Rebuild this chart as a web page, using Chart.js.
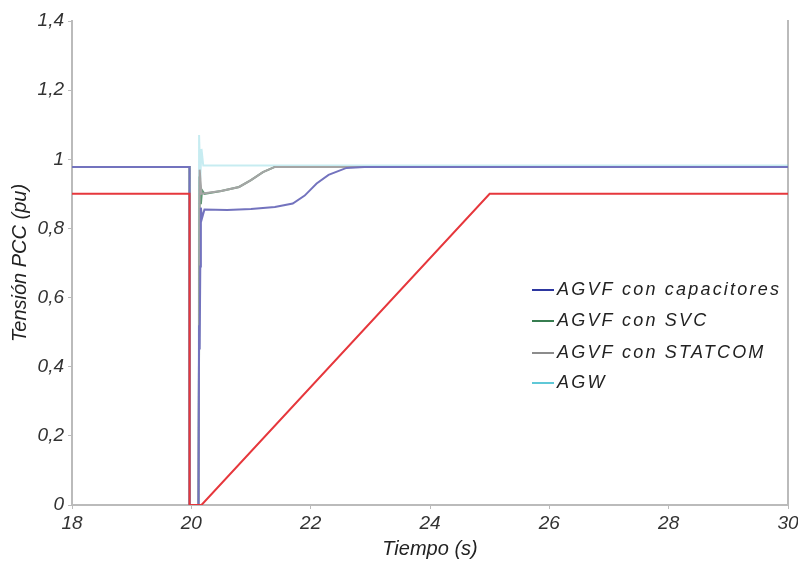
<!DOCTYPE html>
<html>
<head>
<meta charset="utf-8">
<script src="https://cdn.jsdelivr.net/npm/chart.js@4.4.0/dist/chart.umd.min.js"></script>
<style>
  html, body { margin: 0; padding: 0; background: #fff; }
  #wrap { width: 798px; height: 565px; }
</style>
</head>
<body>
<div id="wrap"><canvas id="mycanvas" width="798" height="565"></canvas></div>
<script>
// tiempo (s) / tension (pu)
var redT = [18, 19.97, 19.97, 20.17, 25, 30];
var redV = [0.9, 0.9, 0, 0, 0.9, 0.9];

var capT = [18, 19.97, 19.97, 20.12, 20.13, 20.14, 20.15, 20.16, 20.18, 20.22, 20.6, 21.0, 21.4, 21.7, 21.9, 22.1, 22.3, 22.6, 22.9, 30];
var capV = [0.978, 0.978, 0, 0, 0.52, 0.45, 0.69, 0.86, 0.83, 0.855, 0.853, 0.856, 0.862, 0.872, 0.895, 0.93, 0.955, 0.975, 0.978, 0.978];

var svcT = [18, 19.97, 19.97, 20.12, 20.14, 20.16, 20.18, 20.22, 20.5, 20.8, 21.0, 21.2, 21.4, 21.6, 30];
var svcV = [0.978, 0.978, 0, 0, 0.95, 0.87, 0.91, 0.9, 0.908, 0.92, 0.94, 0.963, 0.978, 0.978, 0.978];

var staT = [18, 19.97, 19.97, 20.12, 20.14, 20.17, 20.22, 20.5, 20.8, 21.0, 21.2, 21.4, 21.6, 30];
var staV = [0.978, 0.978, 0, 0, 0.97, 0.9, 0.902, 0.908, 0.92, 0.94, 0.963, 0.978, 0.978, 0.978];

var agwT = [18, 19.97, 19.97, 20.12, 20.13, 20.15, 20.17, 20.2, 30];
var agwV = [0.978, 0.978, 0, 0, 1.07, 0.94, 1.03, 0.982, 0.982];

var xTicks = [18, 20, 22, 24, 26, 28, 30];
var yTicks = [0, 0.2, 0.4, 0.6, 0.8, 1, 1.2, 1.4];

var legendNames = ["AGVF con capacitores", "AGVF con SVC", "AGVF con STATCOM", "AGW"];
var legendColors = ["rgb(45,55,160)", "rgb(55,125,80)", "rgb(140,140,140)", "rgb(95,200,215)"];

function pts(t, v) {
	var out = [];
	for (var i in t) {
		out.push({x: t[i], y: v[i]});
	}
	return out;
}

function fmt(v) {
	var r = Math.round(v * 10) / 10;
	return r.toString().replace('.', ',');
}

var tickFont = {family: "'Liberation Sans', Arial, sans-serif", size: 19, style: 'italic'};
var titleFont = {family: "'Liberation Sans', Arial, sans-serif", size: 20, style: 'italic'};

// legend drawn inside the plot, like the original
var innerLegend = {
	id: 'innerLegend',
	afterDatasetsDraw: function(chart) {
		var ctx = chart.ctx;
		var a = chart.chartArea;
		var x0 = a.left + 460;
		var rows = [290, 321, 353, 383];
		ctx.save();
		ctx.font = "italic 18px 'Liberation Sans', Arial, sans-serif";
		ctx.letterSpacing = '2.2px';
		ctx.textBaseline = 'middle';
		for (var i = 0; i < legendNames.length; i++) {
			ctx.strokeStyle = legendColors[i];
			ctx.lineWidth = 2;
			ctx.beginPath();
			ctx.moveTo(x0, rows[i]);
			ctx.lineTo(x0 + 22, rows[i]);
			ctx.stroke();
			ctx.fillStyle = '#222';
			ctx.fillText(legendNames[i], x0 + 25, rows[i]);
		}
		ctx.restore();
	}
};

var chartdata = {
	datasets: [
		{
			label: "Tension AGW",
			data: pts(redT, redV),
			borderColor: "rgb(230,55,60)",
			borderWidth: 2,
			order: 0
		},
		{
			label: legendNames[0],
			data: pts(capT, capV),
			borderColor: "rgb(115,115,190)",
			borderWidth: 2,
			order: 1
		},
		{
			label: legendNames[1],
			data: pts(svcT, svcV),
			borderColor: "rgba(55,125,80,0.8)",
			borderWidth: 2,
			order: 3
		},
		{
			label: legendNames[2],
			data: pts(staT, staV),
			borderColor: "rgb(165,165,165)",
			borderWidth: 2,
			order: 2
		},
		{
			label: legendNames[3],
			data: pts(agwT, agwV),
			borderColor: "rgba(95,200,215,0.35)",
			borderWidth: 2,
			order: 4
		}
	]
};

var ctx = document.getElementById('mycanvas');

var LineGraph = new Chart(ctx, {
	type: 'line',
	data: chartdata,
	plugins: [innerLegend],
	options: {
		responsive: false,
		animation: false,
		elements: {point: {radius: 0}, line: {tension: 0}},
		layout: {padding: {top: 21, right: 8, left: 0, bottom: 0}},
		plugins: {legend: {display: false}, tooltip: {enabled: false}},
		scales: {
			x: {
				type: 'linear',
				min: 18,
				max: 30,
				afterBuildTicks: function(scale) {
					scale.ticks = xTicks.map(function(v) { return {value: v}; });
				},
				afterFit: function(scale) {
					scale.height = 60;
					scale.paddingRight = 0;
					scale.paddingLeft = 0;
				},
				ticks: {color: '#333', font: tickFont, padding: 3, callback: function(v) { return fmt(v); }},
				grid: {drawOnChartArea: false, tickLength: 4, color: '#bbb'},
				border: {color: '#bbb', width: 2},
				title: {display: true, text: 'Tiempo (s)', color: '#222', font: titleFont, padding: {top: 1}}
			},
			y: {
				min: 0,
				max: 1.4,
				afterBuildTicks: function(scale) {
					scale.ticks = yTicks.map(function(v) { return {value: v}; });
				},
				afterFit: function(scale) { scale.width = 72; },
				ticks: {color: '#333', font: tickFont, padding: 4, callback: function(v) { return fmt(v); }},
				grid: {drawOnChartArea: false, tickLength: 4, color: '#bbb'},
				border: {color: '#bbb', width: 2},
				title: {display: true, text: 'Tensión PCC (pu)', color: '#222', font: titleFont, padding: {top: 8, bottom: 0}}
			},
			yRight: {
				position: 'right',
				min: 0,
				max: 1.4,
				afterFit: function(scale) { scale.width = 2; },
				ticks: {display: false},
				grid: {drawOnChartArea: false, drawTicks: false},
				border: {color: '#bbb', width: 2}
			}
		}
	}
});
</script>
</body>
</html>
